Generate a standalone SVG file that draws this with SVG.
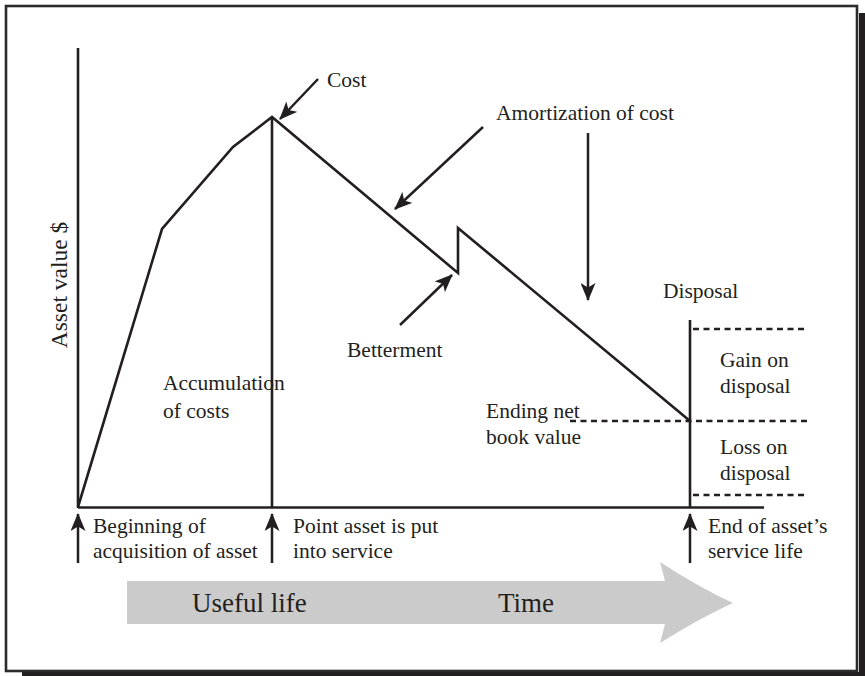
<svg xmlns="http://www.w3.org/2000/svg" width="865" height="676" viewBox="0 0 865 676">
  <defs>
    <style>
      .ln { fill: none; stroke: #231f20; stroke-width: 2.6; stroke-linejoin: miter; }
      .dash { fill: none; stroke: #231f20; stroke-width: 2.4; stroke-dasharray: 6 4.5; }
      .arr { fill: none; stroke: #231f20; stroke-width: 2.5; marker-end: url(#head); }
      text { font-family: 'Liberation Serif', 'Times New Roman', Times, serif; fill: #231f20; }
      .lbl { font-size: 21.5px; }
      .big { font-size: 27px; }
    </style>
    <marker id="head" viewBox="0 0 18 15" refX="17" refY="7.5" markerWidth="18" markerHeight="15" markerUnits="userSpaceOnUse" orient="auto">
      <path d="M0,0 L18,7.5 L0,15 L4.5,7.5 Z" fill="#231f20"/>
    </marker>
  </defs>

  <!-- frame with drop shadow -->
  <g id="frame">
    <rect x="859" y="13" width="6" height="663" fill="#231f20"/>
    <rect x="22" y="672" width="843" height="4" fill="#231f20"/>
    <rect x="6" y="6" width="851" height="665" fill="#ffffff" stroke="#2b2b2b" stroke-width="2.6"/>
  </g>

  <!-- axes -->
  <g id="axes">
    <line class="ln" x1="78" y1="48" x2="78" y2="508"/>
    <line class="ln" x1="78" y1="507.5" x2="764" y2="507.5"/>
    <text transform="translate(67,285) rotate(-90)" text-anchor="middle" font-size="23.5">Asset value $</text>
  </g>

  <!-- asset value curve -->
  <g id="value-curve">
    <polyline class="ln" points="78,507 162,229 233,147 272,117 458,273 458,228 690,421"/>
    <line class="ln" x1="272" y1="117" x2="272" y2="508"/>
    <line class="ln" x1="690" y1="320" x2="690" y2="508"/>
  </g>

  <!-- disposal levels -->
  <g id="disposal-levels">
    <line class="dash" x1="693" y1="329" x2="808" y2="329"/>
    <line class="dash" x1="570" y1="421" x2="808" y2="421"/>
    <line class="dash" x1="693" y1="495" x2="808" y2="495"/>
  </g>

  <!-- pointer arrows -->
  <g id="connectors">
    <line class="arr" x1="318" y1="79" x2="280" y2="119"/>
    <line class="arr" x1="483" y1="127" x2="395" y2="209"/>
    <line class="arr" x1="588" y1="133" x2="588" y2="300"/>
    <line class="arr" x1="400" y1="325" x2="452" y2="275"/>
    <line class="arr" x1="78" y1="563" x2="78" y2="514"/>
    <line class="arr" x1="272" y1="563" x2="272" y2="514"/>
    <line class="arr" x1="690" y1="563" x2="690" y2="514"/>
  </g>

  <!-- labels -->
  <g id="label-cost"><text class="lbl" x="327" y="87">Cost</text></g>
  <g id="label-amortization"><text class="lbl" x="496" y="120">Amortization of cost</text></g>
  <g id="label-accumulation">
    <text class="lbl" x="163" y="390">Accumulation</text>
    <text class="lbl" x="163" y="418">of costs</text>
  </g>
  <g id="label-betterment"><text class="lbl" x="347" y="357">Betterment</text></g>
  <g id="label-ending">
    <text class="lbl" x="486" y="418">Ending net</text>
    <text class="lbl" x="486" y="444">book value</text>
  </g>
  <g id="label-disposal"><text class="lbl" x="663" y="298">Disposal</text></g>
  <g id="label-gain">
    <text class="lbl" x="720" y="367">Gain on</text>
    <text class="lbl" x="720" y="393">disposal</text>
  </g>
  <g id="label-loss">
    <text class="lbl" x="720" y="454">Loss on</text>
    <text class="lbl" x="720" y="480">disposal</text>
  </g>
  <g id="label-beginning">
    <text class="lbl" x="93" y="533">Beginning of</text>
    <text class="lbl" x="93" y="558">acquisition of asset</text>
  </g>
  <g id="label-in-service">
    <text class="lbl" x="293" y="533">Point asset is put</text>
    <text class="lbl" x="293" y="558">into service</text>
  </g>
  <g id="label-end">
    <text class="lbl" x="708" y="533">End of asset’s</text>
    <text class="lbl" x="708" y="558">service life</text>
  </g>

  <!-- time arrow -->
  <g id="time-arrow">
    <path d="M127,581 L665,581 L660,562 Q700,588 733,603 Q700,618 660,643 L665,624 L127,624 Z" fill="#cbcbcb"/>
    <text class="big" x="192" y="612">Useful life</text>
    <text class="big" x="498" y="612">Time</text>
  </g>
</svg>
